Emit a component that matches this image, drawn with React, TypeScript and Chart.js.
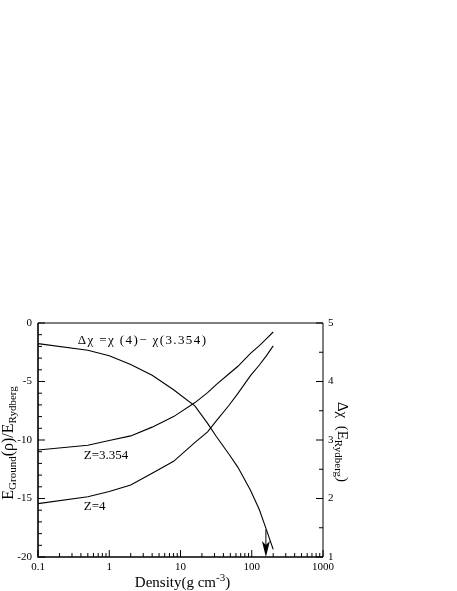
import React, { useEffect, useRef } from "react";
import { Chart, registerables } from "chart.js";

Chart.register(...registerables);

// ---- data ----
const density = [0.1, 0.5, 1, 2, 4, 8, 16, 24, 32, 48, 64, 96, 128, 160, 200];
const eGroundZ3354 = [-10.85, -10.45, -10.05, -9.65, -8.9, -8.0, -6.8, -5.95, -5.25, -4.34, -3.7, -2.6, -1.93, -1.36, -0.77];
const eGroundZ4 = [-15.44, -14.85, -14.4, -13.85, -12.85, -11.82, -10.2, -9.3, -8.34, -7.03, -6.02, -4.5, -3.59, -2.81, -1.96];
const deltaChi = [4.648, 4.533, 4.44, 4.29, 4.106, 3.86, 3.58, 3.285, 3.055, 2.756, 2.533, 2.14, 1.807, 1.473, 1.13];

const xTickValues = [0.1, 1, 10, 100, 1000];
const xTickLabels = ["0.1", "1", "10", "100", "1000"];
const yLeftTicks = [0, -5, -10, -15, -20];
const yRightTicks = [1, 2, 3, 4, 5];

// arrow marking the density on the Δχ curve
const arrowDensity = 158;
const arrowFrom = 1.47;
const arrowTo = 1;

// text labels in data coordinates (x: density, y: left axis)
const annotations = [
  { text: "Δχ =χ (4)− χ(3.354)", x: 0.36, y: -1.5, spacing: 1.4 },
  { text: "Z=3.354", x: 0.44, y: -11.3, spacing: 0 },
  { text: "Z=4", x: 0.44, y: -15.7, spacing: 0 },
];

const SERIF = "'Liberation Serif', 'Times New Roman', serif";

const decor = {
  id: "decor",
  afterDraw(chart: any) {
    const { ctx, chartArea: a, scales } = chart;
    const x = scales.x, y = scales.y, y2 = scales.y2;
    ctx.save();
    ctx.strokeStyle = "#000";
    ctx.fillStyle = "#000";

    // frame
    ctx.lineWidth = 1;
    ctx.beginPath();
    ctx.moveTo(a.left, a.top);
    ctx.lineTo(a.right, a.top);
    ctx.lineTo(a.right, a.bottom);
    ctx.stroke();
    ctx.lineWidth = 1.6;
    ctx.beginPath();
    ctx.moveTo(a.left, a.top);
    ctx.lineTo(a.left, a.bottom);
    ctx.lineTo(a.right, a.bottom);
    ctx.stroke();

    ctx.lineWidth = 1;
    // x ticks (inside, bottom)
    for (let d = -1; d <= 3; d++) {
      const major = Math.pow(10, d);
      const px = x.getPixelForValue(major);
      ctx.beginPath();
      ctx.moveTo(px, a.bottom);
      ctx.lineTo(px, a.bottom - 7);
      ctx.stroke();
      if (d < 3) {
        for (let m = 2; m <= 9; m++) {
          const p = x.getPixelForValue(m * major);
          ctx.beginPath();
          ctx.moveTo(p, a.bottom);
          ctx.lineTo(p, a.bottom - 4);
          ctx.stroke();
        }
      }
    }
    // left y ticks
    for (let v = -20; v <= 0; v++) {
      const p = y.getPixelForValue(v);
      const len = v % 5 === 0 ? 7 : 4;
      ctx.beginPath();
      ctx.moveTo(a.left, p);
      ctx.lineTo(a.left + len, p);
      ctx.stroke();
    }
    // right y ticks
    for (let v = 1; v <= 5; v += 0.5) {
      const p = y2.getPixelForValue(v);
      const len = Number.isInteger(v) ? 7 : 4;
      ctx.beginPath();
      ctx.moveTo(a.right, p);
      ctx.lineTo(a.right - len, p);
      ctx.stroke();
    }

    // arrow
    const ax = x.getPixelForValue(arrowDensity);
    const ay0 = y2.getPixelForValue(arrowFrom);
    const ay1 = y2.getPixelForValue(arrowTo);
    ctx.beginPath();
    ctx.moveTo(ax, ay0);
    ctx.lineTo(ax, ay1 - 8);
    ctx.stroke();
    ctx.beginPath();
    ctx.moveTo(ax, ay1);
    ctx.lineTo(ax - 4, ay1 - 16);
    ctx.lineTo(ax, ay1 - 12);
    ctx.lineTo(ax + 4, ay1 - 16);
    ctx.closePath();
    ctx.fill();

    // annotations
    ctx.textBaseline = "middle";
    ctx.textAlign = "left";
    for (const an of annotations) {
      ctx.font = `13px ${SERIF}`;
      (ctx as any).letterSpacing = `${an.spacing}px`;
      ctx.fillText(an.text, x.getPixelForValue(an.x), y.getPixelForValue(an.y));
    }
    (ctx as any).letterSpacing = "0px";

    // helper for rich text runs
    const drawRuns = (runs: { t: string; size: number; dy: number }[], cx: number, cy: number, rot: number) => {
      ctx.save();
      ctx.translate(cx, cy);
      ctx.rotate(rot);
      ctx.textBaseline = "alphabetic";
      ctx.textAlign = "left";
      let w = 0;
      for (const r of runs) {
        ctx.font = `${r.size}px ${SERIF}`;
        w += ctx.measureText(r.t).width;
      }
      let cur = -w / 2;
      for (const r of runs) {
        ctx.font = `${r.size}px ${SERIF}`;
        ctx.fillText(r.t, cur, r.dy);
        cur += ctx.measureText(r.t).width;
      }
      ctx.restore();
    };

    // left axis title
    drawRuns(
      [
        { t: "E", size: 16, dy: 0 },
        { t: "Ground", size: 11, dy: 3 },
        { t: "(ρ)/E", size: 16, dy: 0 },
        { t: "Rydberg", size: 11, dy: 3 },
      ],
      13, (a.top + a.bottom) / 2 + 3, -Math.PI / 2
    );
    // right axis title
    drawRuns(
      [
        { t: "Δχ  (E", size: 15, dy: 0 },
        { t: "Rydberg", size: 11, dy: 3 },
        { t: ")", size: 15, dy: 0 },
      ],
      338, (a.top + a.bottom) / 2 + 2, Math.PI / 2
    );
    // x axis title
    drawRuns(
      [
        { t: "Density(g cm", size: 15, dy: 0 },
        { t: "-3", size: 11, dy: -6 },
        { t: ")", size: 15, dy: 0 },
      ],
      (a.left + a.right) / 2 + 2, 587, 0
    );

    ctx.restore();
  },
};

export default function App() {
  const ref = useRef<HTMLCanvasElement | null>(null);
  useEffect(() => {
    if (!ref.current) return;
    const mk = (vals: number[]) => density.map((d, i) => ({ x: d, y: vals[i] }));
    const line = { borderColor: "#000", borderWidth: 1.1, pointRadius: 0, tension: 0, fill: false };
    const tickFont = { family: SERIF, size: 11 };
    const grid = { display: false, drawTicks: false, tickLength: 0 };
    const chart = new Chart(ref.current, {
      type: "line",
      data: {
        datasets: [
          { ...line, label: "Z=3.354", data: mk(eGroundZ3354), yAxisID: "y" },
          { ...line, label: "Z=4", data: mk(eGroundZ4), yAxisID: "y" },
          { ...line, label: "Δχ", data: mk(deltaChi), yAxisID: "y2" },
        ],
      },
      options: {
        animation: false,
        responsive: false,
        layout: { padding: { top: 323, left: 0, right: 0, bottom: 0 } },
        plugins: { legend: { display: false }, tooltip: { enabled: false } },
        scales: {
          x: {
            type: "logarithmic",
            min: 0.1,
            max: 1000,
            grid,
            border: { display: false },
            afterBuildTicks: (s: any) => {
              s.ticks = xTickValues.map((v) => ({ value: v }));
            },
            afterFit: (s: any) => {
              s.height = 34;
            },
            ticks: {
              color: "#000",
              font: tickFont,
              padding: 4,
              maxRotation: 0,
              autoSkip: false,
              callback: (v: any) => {
                const i = xTickValues.indexOf(Number(v));
                return i >= 0 ? xTickLabels[i] : "";
              },
            },
          },
          y: {
            type: "linear",
            position: "left",
            min: -20,
            max: 0,
            grid,
            border: { display: false },
            afterBuildTicks: (s: any) => {
              s.ticks = yLeftTicks.map((v) => ({ value: v }));
            },
            afterFit: (s: any) => {
              s.width = 38;
            },
            ticks: { color: "#000", font: tickFont, padding: 6 },
          },
          y2: {
            type: "linear",
            position: "right",
            min: 1,
            max: 5,
            grid,
            border: { display: false },
            afterBuildTicks: (s: any) => {
              s.ticks = yRightTicks.map((v) => ({ value: v }));
            },
            afterFit: (s: any) => {
              s.width = 134;
            },
            ticks: { color: "#000", font: tickFont, padding: 5 },
          },
        },
      },
      plugins: [decor],
    });
    return () => chart.destroy();
  }, []);
  return (
    <div style={{ position: "fixed", left: 0, top: 0, width: 457, height: 591, background: "#fff" }}>
      <canvas ref={ref} width={457} height={591} style={{ display: "block" }} />
    </div>
  );
}
